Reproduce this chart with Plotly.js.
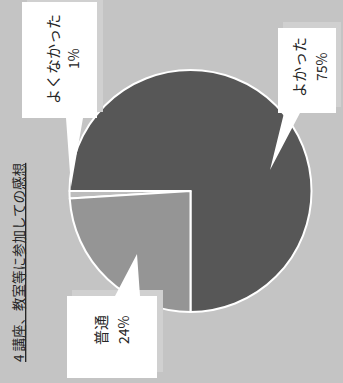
<!DOCTYPE html>
<html>
<head>
<meta charset="utf-8">
<script src="https://cdn.plot.ly/plotly-3.0.1.min.js"></script>
<style>
  html, body { margin: 0; padding: 0; background: #c4c4c4; }
  #chart { width: 343px; height: 383px; }
</style>
</head>
<body>
<div id="chart"></div>
<script>
// 講座、教室等に参加しての感想
const labels = ['よかった', 'よくなかった', '普通'];
const values = [75, 1, 24];
const sliceColors = ['#575757', '#bdbdbd', '#959595'];
const titleText = '4 講座、教室等に参加しての感想';

const W = 343;
const H = 383;
const FONT = '"Noto Sans CJK JP", "Noto Sans", sans-serif';

// pixel -> paper helpers
const px = (x) => x / W;
const py = (y) => 1 - y / H;

/**
 * Builds a callout (box with pointer) path in paper coords.
 */
function callout(pts) {
  return 'M ' + pts.map(([x, y]) => `${px(x).toFixed(4)},${py(y).toFixed(4)}`).join(' L ') + ' Z';
}

const boxes = [
  // よかった
  {pts: [[278, 28], [336, 28], [336, 113], [300, 113], [270, 170], [284, 113], [278, 113]],
   shadow: [283, 22, 341, 107]},
  // よくなかった
  {pts: [[22, 2], [97, 2], [97, 118], [83, 118], [71, 187], [66, 118], [22, 118]],
   shadow: [27, -4, 103, 112]},
  // 普通
  {pts: [[67, 296], [115, 296], [137, 254], [140, 296], [157, 296], [157, 378], [67, 378]],
   shadow: [72, 290, 163, 372]},
];

const shapes = [];
boxes.forEach((b) => {
  const [x0, y0, x1, y1] = b.shadow;
  shapes.push({
    type: 'rect', xref: 'paper', yref: 'paper',
    x0: px(x0), x1: px(x1), y0: py(y1), y1: py(y0),
    fillcolor: '#d0d0d0', line: {width: 0}, layer: 'above',
  });
});
boxes.forEach((b) => {
  shapes.push({
    type: 'path', xref: 'paper', yref: 'paper', path: callout(b.pts),
    fillcolor: '#ffffff', line: {width: 0}, layer: 'above',
  });
});

// label text positions (name column, value column, vertical centre)
const labelPos = [
  {xn: 298, xv: 321, y: 67},
  {xn: 52, xv: 73, y: 59},
  {xn: 100, xv: 123, y: 330},
];

const annotations = [];
const txt = (x, y, text, size) => ({
  xref: 'paper', yref: 'paper', x: px(x), y: py(y),
  xanchor: 'center', yanchor: 'middle',
  text: text, showarrow: false, textangle: -90,
  font: {family: FONT, size: size, color: '#262626'},
});
labels.forEach((lab, i) => {
  const p = labelPos[i];
  annotations.push(txt(p.xn, p.y, lab, 15));
  annotations.push(txt(p.xv, p.y, values[i] + '%', 14));
});
annotations.push(txt(18, 263, '<u>' + titleText + '</u>', 13.5));

const trace = {
  type: 'pie',
  labels: labels,
  values: values,
  sort: false,
  direction: 'counterclockwise',
  rotation: -90,
  textinfo: 'none',
  hoverinfo: 'none',
  marker: {colors: sliceColors, line: {color: '#ffffff', width: 2}},
  domain: {x: [px(69.5), px(311.5)], y: [py(312), py(70)]},
  showlegend: false,
};

Plotly.newPlot('chart', [trace], {
  width: W,
  height: H,
  margin: {l: 0, r: 0, t: 0, b: 0},
  paper_bgcolor: '#c4c4c4',
  showlegend: false,
  shapes: shapes,
  annotations: annotations,
}, {staticPlot: true});
</script>
</body>
</html>
